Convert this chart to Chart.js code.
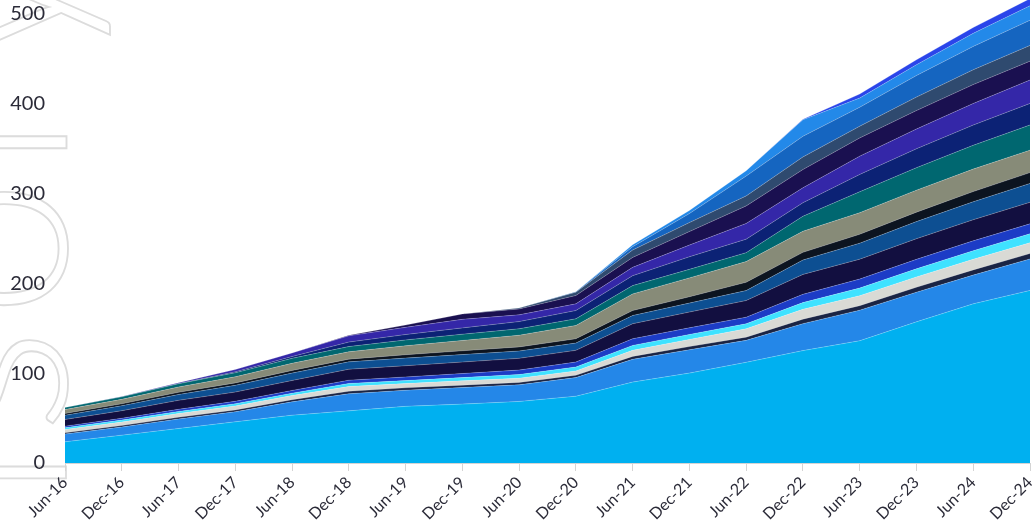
<!DOCTYPE html>
<html>
<head>
<meta charset="utf-8">
<script src="https://cdn.jsdelivr.net/npm/chart.js@4/dist/chart.umd.min.js"></script>
<style>
  html, body { margin: 0; padding: 0; background: #fff; }
  #wrap { width: 1034px; height: 527px; position: relative; }
</style>
</head>
<body>
<div id="wrap"><canvas id="stackChart"></canvas></div>
<script>
// Zeitachse (Halbjahre)
const labels = ["Jun-16", "Dec-16", "Jun-17", "Dec-17", "Jun-18", "Dec-18", "Jun-19", "Dec-19", "Jun-20",
                "Dec-20", "Jun-21", "Dec-21", "Jun-22", "Dec-22", "Jun-23", "Dec-23", "Jun-24", "Dec-24"];

// Schichten von unten nach oben (Dicke je Schicht)
const s01 = [23.6, 31, 38.4, 45.8, 53.2, 58, 63, 65.5, 68.5, 74.3, 90, 100, 112, 125, 136, 157, 177, 192];
const s02 = [8.6, 9, 10.6, 11.2, 14.8, 19, 18, 18.5, 18.5, 20.7, 25.3, 26, 24.4, 30, 34, 33, 32, 35];
const s03 = [1.4, 1.6, 1.8, 2, 2.4, 2.8, 2.6, 2.6, 2.6, 2.6, 3.3, 3.5, 3.6, 5, 5, 5.5, 5.8, 6];
const s04 = [3.7, 4, 4.3, 4.5, 4.7, 5.2, 4.8, 4.8, 4.8, 4.8, 6.7, 8, 9.3, 11, 11.1, 11.5, 11.8, 12];
const s05 = [1.9, 2.1, 2.3, 2.5, 2.6, 3.5, 3.3, 3.6, 4, 4.4, 5.5, 5.5, 5.6, 7.4, 8.5, 9, 9.5, 10];
const s06 = [1.8, 2, 2.3, 2.6, 3, 3.6, 4, 4.5, 5, 5.5, 7.4, 7.4, 7.3, 9.2, 10, 10.5, 11, 11];
const s07 = [7.4, 8.5, 10, 10.3, 11.1, 12.2, 12.5, 12.8, 13, 13, 16.7, 17.5, 18.5, 22.2, 22.1, 23, 23.5, 24];
const s08 = [4.8, 5.5, 6.5, 7.5, 8.2, 8.2, 8.5, 8.3, 8.2, 8.1, 9.2, 10, 11.1, 16, 17.8, 19, 20, 21];
const s09 = [1.9, 2.1, 2.4, 2.7, 2.9, 3, 3.7, 4.2, 4.5, 4.8, 5.5, 7, 9.2, 8.5, 9.9, 10.5, 11.3, 12];
const s10 = [4.4, 5, 6, 6.8, 8, 8.2, 10, 11.5, 13, 14.8, 18.5, 21, 23, 23.5, 24, 24.5, 25, 25];
const s11 = [2.2, 2.8, 3.5, 4.5, 5.5, 5.8, 6.5, 7, 7.2, 7.4, 9.2, 9.5, 10, 16.7, 23.3, 25, 26.5, 28];
const s12 = [0, 0, 0.3, 1, 2, 5, 6, 7, 8, 9.2, 11.1, 14, 15, 15, 19.3, 21, 22.5, 24];
const s13 = [0, 0.3, 1, 2.5, 4, 7, 8, 9.5, 7.5, 7.4, 9.2, 13, 17.5, 16.6, 20.3, 22, 24, 26];
const s14 = [0, 0, 0, 0, 0, 0.5, 2.5, 6, 6.5, 9.3, 11.1, 15, 19.5, 20.3, 20.3, 20.5, 21, 21];
const s15 = [0, 0, 0, 0, 0, 0, 0, 0, 1, 3.7, 8.2, 10, 11.1, 14.1, 13, 15, 16.5, 17.5];
const s16 = [0, 0, 0, 0, 0, 0, 0, 0, 0, 0.5, 3.7, 10, 22, 22.9, 21.1, 24, 26, 28];
const s17 = [0, 0, 0, 0, 0, 0, 0, 0, 0, 0, 2.2, 3.5, 6, 18.5, 10.2, 12, 14.5, 16];
const s18 = [0, 0, 0, 0, 0, 0, 0, 0, 0, 0, 0, 0, 0, 0.5, 4.5, 5.5, 6.5, 8];

const seriesList = [s01, s02, s03, s04, s05, s06, s07, s08, s09, s10, s11, s12, s13, s14, s15, s16, s17, s18];

// Farben der Schichten
const colors = ["#00B0F0", "#2487E8", "#1A2444", "#D9DAD5", "#3FE2FF", "#1C3CC6", "#120F40", "#0D4F92", "#0C1420",
                "#878B78", "#006770", "#0C2275", "#3427A8", "#1A1050", "#2F4A6F", "#1565C0", "#2389E9", "#2A45EA"];

const yTicks = [0, 100, 200, 300, 400, 500];

// Wasserzeichen links (gedreht, nur Umriss)
const watermark = {
    id: "watermark",
    beforeDraw(chart) {
        const ctx = chart.ctx;
        ctx.save();
        ctx.translate(66, -65);
        ctx.rotate(-Math.PI / 2);
        ctx.font = "300 250px Lato";
        ctx.letterSpacing = "10px";
        ctx.textAlign = "right";
        ctx.textBaseline = "alphabetic";
        ctx.strokeStyle = "#dcdcdc";
        ctx.lineWidth = 1.8;
        ctx.strokeText("Advisory", 0, 0);
        ctx.restore();
    }
};

const datasets = seriesList.map((values, i) => ({
    label: "S" + (i + 1),
    data: values,
    backgroundColor: colors[i],
    borderColor: "rgba(255,255,255,0.35)",
    borderWidth: 0.6,
    pointRadius: 0,
    tension: 0,
    fill: i === 0 ? "origin" : "-1"
}));

new Chart(document.getElementById("stackChart"), {
    type: "line",
    data: { labels: labels, datasets: datasets },
    plugins: [watermark],
    options: {
        responsive: true,
        maintainAspectRatio: false,
        animation: false,
        layout: { padding: { left: 0, right: 4, top: 0, bottom: 0 } },
        plugins: {
            legend: { display: false },
            tooltip: { enabled: false }
        },
        scales: {
            x: {
                offset: false,
                grid: { display: true, drawOnChartArea: false, tickLength: 8, color: "#d4d4d4" },
                border: { display: true, color: "#d4d4d4" },
                ticks: {
                    minRotation: 45, maxRotation: 45, padding: 2,
                    color: "#2b2b38",
                    font: { family: "Lato", size: 16 }
                },
                afterFit(axis) {
                    axis.height = 64;
                    axis.paddingLeft = 0;
                    axis.paddingRight = 0;
                }
            },
            y: {
                stacked: true,
                min: 0,
                max: 515,
                grid: { display: false, drawTicks: false },
                border: { display: false },
                ticks: {
                    stepSize: 100, padding: 20,
                    color: "#2b2b38",
                    font: { family: "Lato", size: 20 }
                },
                afterBuildTicks(axis) {
                    axis.ticks = yTicks.map(v => ({ value: v }));
                },
                afterFit(axis) {
                    axis.width = 65;
                    axis.paddingTop = 0;
                    axis.paddingBottom = 0;
                }
            }
        }
    }
});
</script>
</body>
</html>
